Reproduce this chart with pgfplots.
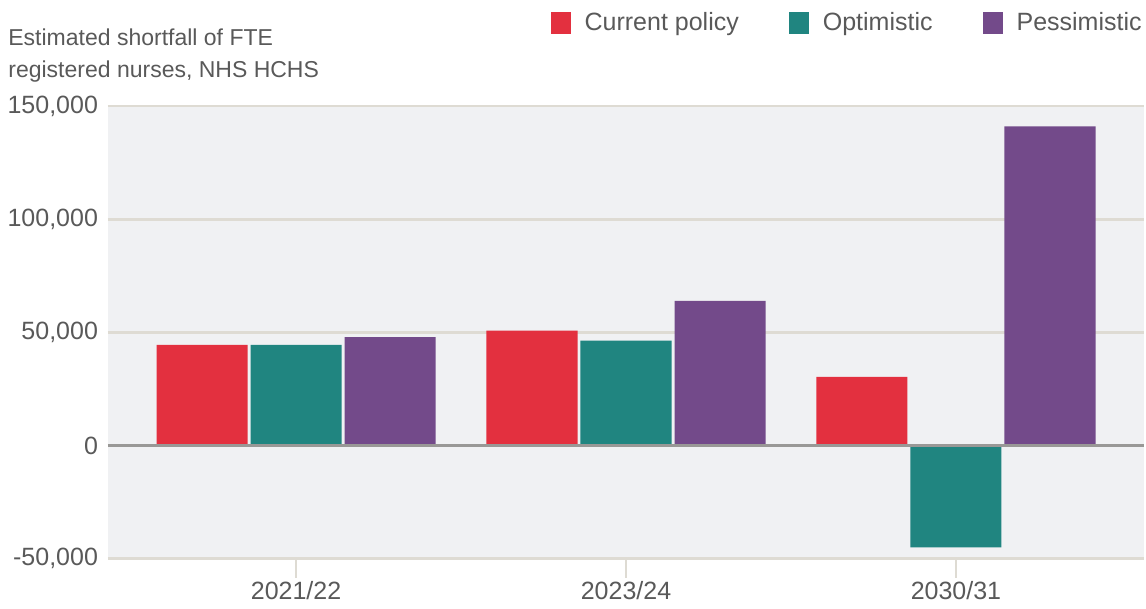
\documentclass[border=0pt]{standalone}
\usepackage{pgfplots}
\pgfplotsset{compat=1.18}
\usepackage{fontspec}
\setmainfont{Liberation Sans}
\definecolor{cpol}{HTML}{E3303F}
\definecolor{copt}{HTML}{208580}
\definecolor{cpes}{HTML}{734A8A}
\definecolor{bgc}{HTML}{F0F1F3}
\definecolor{gridc}{HTML}{DEDBD3}
\definecolor{zeroc}{HTML}{999896}
\definecolor{txt}{HTML}{595959}
\begin{document}
\begin{tikzpicture}
\path[use as bounding box] (0,0) rectangle (573pt,-304.5pt);
\begin{axis}[
  at={(54pt,-279.3pt)}, anchor=south west,
  scale only axis, width=518pt, height=226.3pt,
  xmin=-0.57, xmax=2.57, ymin=-50000, ymax=150000,
  axis background/.style={fill=bgc},
  axis line style={draw=none},
  ybar, bar width=0.276,
  xtick={0,1,2}, xticklabels={2021/22,2023/24,2030/31},
  xtick pos=lower,
  ytick={-50000,0,50000,100000,150000},
  yticklabels={{-50,000},{0},{50,000},{100,000},{150,000}},
  scaled y ticks=false,
  ymajorgrids, grid style={draw=gridc, line width=1.4pt},
  ytick style={draw=none},
  xtick style={draw=gridc, line width=1.2pt},
  tick align=outside, major tick length=9.5pt,
  every tick label/.append style={font=\fontsize{12.5}{15}\selectfont, text=txt},
  yticklabel style={xshift=8pt},
  xticklabel style={yshift=-0.5pt, inner sep=1pt},
  legend columns=3,
  legend style={at={(1,1)}, anchor=east, yshift=41.5pt, xshift=1pt, draw=none, fill=none, inner sep=0pt,
    font=\fontsize{12.5}{15}\selectfont, text=txt,
    /tikz/every odd column/.append style={column sep=5pt},
    /tikz/every even column/.append style={column sep=23pt}},
  legend image code/.code={\fill[#1] (0pt,-5.6pt) rectangle (10pt,5.6pt);},
]
\addplot[fill=cpol, draw=none, bar shift=-0.285] coordinates {(0,44400) (1,50700) (2,30300)};
\addplot[fill=copt, draw=none, bar shift=0] coordinates {(0,44400) (1,46300) (2,-45000)};
\addplot[fill=cpes, draw=none, bar shift=0.285] coordinates {(0,47900) (1,63900) (2,141000)};
\legend{Current policy, Optimistic, Pessimistic}
\draw[zeroc, line width=1.5pt] (axis cs:-0.57,0) -- (axis cs:2.57,0);
\end{axis}
\node[anchor=north west, inner sep=0pt, align=left, text=txt, font=\fontsize{11.5}{16}\selectfont] at (4pt,-14pt) {Estimated shortfall of FTE\\registered nurses, NHS HCHS};
\end{tikzpicture}
\end{document}
